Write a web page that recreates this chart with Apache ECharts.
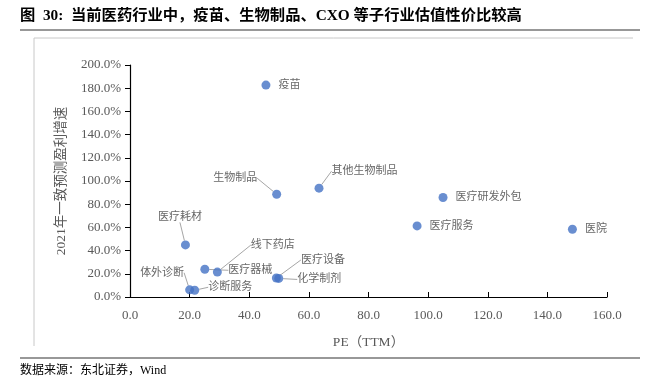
<!DOCTYPE html>
<html><head><meta charset="utf-8">
<script src="https://cdn.jsdelivr.net/npm/echarts@6/dist/echarts.min.js"></script>
<style>html,body{margin:0;padding:0;background:#fff}#c{width:651px;height:390px}</style>
</head><body><div id="c"></div>
<script>
// ---- data ----
const names = ['疫苗','生物制品','其他生物制品','医疗耗材','医疗器械','线下药店','医疗设备','化学制剂','体外诊断','诊断服务','医疗研发外包','医疗服务','医院'];
const peTTM = [45.6, 49.2, 63.4, 18.6, 25.1, 29.3, 49.1, 49.9, 20.0, 21.7, 105.0, 96.3, 148.4];
const growth = [182.7, 88.6, 93.8, 44.9, 23.9, 21.5, 16.4, 16.0, 6.2, 5.8, 85.8, 61.3, 58.4];
const xTicks = [0, 20, 40, 60, 80, 100, 120, 140, 160];
const yTicks = [0, 20, 40, 60, 80, 100, 120, 140, 160, 180, 200];
const titleText = '图  30:  当前医药行业中，疫苗、生物制品、CXO 等子行业估值性价比较高';
const sourceText = '数据来源：东北证券，Wind';
const xName = 'PE（TTM）';
const yName = '2021年一致预测盈利增速';

// ---- label placement (styling only) ----
const labelOffsets = [[0,0],[-76,-16],[0,-17],[-40,-28],[11,1],[21,-27],[12,-18],[6,1],[-62,-17],[1,-3],[0,0],[0,0],[0,0]];
const showLeader = [false,true,true,true,true,true,true,true,true,true,false,false,false];

const SERIF = '"Liberation Serif","Times New Roman","Noto Sans CJK SC",serif';
const chart = echarts.init(document.getElementById('c'), null, {renderer:'canvas'});
const data = names.map((n,i)=>({name:n, value:[peTTM[i], growth[i]], labelLine:{show:showLeader[i]}}));
chart.setOption({
  animation:false,
  backgroundColor:'#fff',
  graphic:[
    {type:'text', left:20, top:8, style:{text:titleText, font:'bold 15.3px '+SERIF, fill:'#000'}},
    {type:'line', shape:{x1:20,y1:30,x2:640,y2:30}, style:{stroke:'#333', lineWidth:1.2}},
    {type:'line', shape:{x1:34,y1:38,x2:633,y2:38}, style:{stroke:'#c8c8c8', lineWidth:1}},
    {type:'line', shape:{x1:34,y1:38,x2:34,y2:346}, style:{stroke:'#c8c8c8', lineWidth:1}},
    {type:'line', shape:{x1:20,y1:358,x2:640,y2:358}, style:{stroke:'#333', lineWidth:1.2}},
    {type:'text', left:20, top:365, style:{text:sourceText, font:'12px '+SERIF, fill:'#000'}}
  ],
  grid:{left:130, right:44, top:65, bottom:93},
  xAxis:{
    type:'value', min:xTicks[0], max:xTicks[xTicks.length-1], interval:20,
    name:xName, nameLocation:'middle', nameGap:39,
    nameTextStyle:{fontFamily:SERIF, fontSize:13.5, color:'#595959'},
    axisLine:{show:true, lineStyle:{color:'#000', width:1.2}},
    axisTick:{show:true, inside:true, length:5, lineStyle:{color:'#000'}},
    axisLabel:{fontFamily:SERIF, fontSize:13, color:'#595959', margin:12, formatter:v=>v.toFixed(1)},
    splitLine:{show:false}
  },
  yAxis:{
    type:'value', min:yTicks[0], max:yTicks[yTicks.length-1], interval:20,
    name:yName, nameLocation:'middle', nameGap:62, nameRotate:90,
    nameTextStyle:{fontFamily:SERIF, fontSize:13.5, color:'#595959'},
    axisLine:{show:true, lineStyle:{color:'#000', width:1.2}},
    axisTick:{show:true, inside:false, length:5, lineStyle:{color:'#000'}},
    axisLabel:{fontFamily:SERIF, fontSize:13, color:'#595959', margin:9, formatter:v=>v.toFixed(1)+'%'},
    splitLine:{show:false}
  },
  series:[{
    type:'scatter', data:data, symbolSize:9,
    itemStyle:{color:'#4472C4'},
    label:{show:true, position:'right', distance:8, formatter:p=>p.name,
      fontFamily:SERIF, fontSize:11, color:'#404040'},
    labelLine:{show:true, lineStyle:{color:'#a6a6a6', width:1}},
    labelLayout:function(p){ const o = labelOffsets[p.dataIndex]; return {dx:o[0], dy:o[1]}; }
  }]
});
</script></body></html>
